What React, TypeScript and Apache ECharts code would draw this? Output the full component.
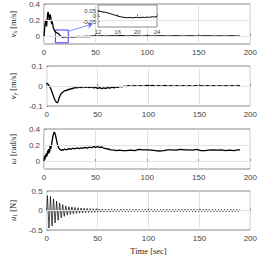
import React, { useEffect, useRef } from "react";
import * as echarts from "echarts";

const X_TICKS = [0, 50, 100, 150, 200];

const VX: number[][] = [
  [0, 0], [0.5, 0.08], [1, 0.15], [1.5, 0.2], [2, 0.17], [2.5, 0.12], [3, 0.2], [3.5, 0.28],
  [4, 0.3], [4.5, 0.26], [5, 0.2], [5.5, 0.24], [6, 0.27], [6.5, 0.24], [7, 0.18], [7.5, 0.15],
  [8, 0.18], [8.5, 0.14], [9, 0.1], [9.5, 0.09], [10, 0.07], [11, 0.05], [12, 0.045], [13, 0.035],
  [14, 0.03], [15, 0.015], [16, 0], [17, -0.008], [18, -0.015], [19, -0.013], [20, -0.012],
  [22, -0.01], [24, -0.005], [26, -0.012], [28, -0.008], [30, -0.01], [33, -0.006], [36, -0.009],
  [40, -0.004], [44, -0.006], [48, 0], [52, -0.003], [56, 0.002], [60, -0.002], [65, 0.002],
  [70, 0], [75, 0.003], [80, -0.002], [85, 0.001], [90, 0.002], [95, -0.001], [100, 0.001],
  [105, -0.002], [110, 0.002], [115, 0], [120, -0.002], [125, 0.002], [130, 0], [135, -0.002],
  [140, 0.002], [145, 0], [150, -0.001], [155, 0.002], [160, 0], [165, -0.002], [170, 0.001],
  [175, -0.001], [180, 0.002], [185, 0], [190, -0.001],
];

const VX_ZOOM: number[][] = [
  [12, 0.045], [12.5, 0.042], [13, 0.036], [13.5, 0.034], [14, 0.028], [14.5, 0.022], [15, 0.014],
  [15.5, 0.006], [16, 0], [16.5, -0.006], [17, -0.01], [17.5, -0.014], [18, -0.016], [18.5, -0.013],
  [19, -0.017], [19.5, -0.014], [20, -0.012], [20.5, -0.016], [21, -0.011], [21.5, -0.014],
  [22, -0.01], [22.5, -0.012], [23, -0.007], [23.5, -0.009], [24, -0.005],
];

const VY: number[][] = [
  [0, 0.016], [0.5, 0.01], [1, 0.013], [1.5, 0.006], [2, 0.008], [2.5, 0.001], [3, -0.003],
  [3.5, -0.008], [4, -0.014], [4.5, -0.02], [5, -0.028], [5.5, -0.034], [6, -0.042], [6.5, -0.048],
  [7, -0.056], [7.5, -0.062], [8, -0.068], [8.5, -0.073], [9, -0.077], [9.5, -0.081], [10, -0.083],
  [10.5, -0.084], [11, -0.08], [11.5, -0.072], [12, -0.064], [12.5, -0.056], [13, -0.05],
  [13.5, -0.043], [14, -0.04], [15, -0.034], [16, -0.03], [17, -0.027], [18, -0.022], [19, -0.024],
  [20, -0.018], [21, -0.021], [22, -0.015], [23, -0.018], [24, -0.012], [25, -0.015], [26, -0.009],
  [27, -0.012], [28, -0.007], [30, -0.01], [32, -0.005], [34, -0.008], [36, -0.003], [38, -0.007],
  [40, -0.004], [42, -0.008], [44, -0.005], [46, -0.01], [48, -0.007], [50, -0.012], [52, -0.008],
  [54, -0.013], [56, -0.009], [58, -0.012], [60, -0.008], [62, -0.011], [64, -0.006], [66, -0.009],
  [68, -0.004], [70, -0.007], [72, -0.002], [74, -0.005], [76, 0], [78, -0.003], [80, 0.002],
  [83, -0.002], [86, 0.002], [89, -0.002], [92, 0.002], [95, -0.002], [98, 0.003], [101, -0.001],
  [104, 0.003], [107, -0.002], [110, 0.002], [113, -0.002], [116, 0.003], [119, -0.002],
  [122, 0.002], [125, -0.002], [128, 0.002], [131, -0.002], [134, 0.002], [137, -0.002],
  [140, 0.002], [143, -0.002], [146, 0.002], [149, -0.002], [152, 0.002], [155, -0.002],
  [158, 0.002], [161, -0.002], [164, 0.002], [167, -0.002], [170, 0.002], [173, -0.002],
  [176, 0.002], [179, -0.002], [182, 0.002], [185, -0.002], [188, 0.002], [190, 0],
];

const OMEGA: number[][] = [
  [0, 0], [0.5, 0.06], [1, 0.02], [1.5, 0.08], [2, 0.05], [2.5, 0.1], [3, 0.06], [3.5, 0.13],
  [4, 0.09], [4.5, 0.15], [5, 0.1], [5.5, 0.12], [6, 0.2], [6.5, 0.15], [7, 0.18], [7.5, 0.22],
  [8, 0.26], [8.5, 0.3], [9, 0.33], [9.5, 0.35], [10, 0.36], [10.5, 0.35], [11, 0.33], [11.5, 0.3],
  [12, 0.27], [12.5, 0.24], [13, 0.21], [13.5, 0.19], [14, 0.17], [15, 0.15], [16, 0.14],
  [17, 0.13], [18, 0.145], [19, 0.135], [20, 0.15], [22, 0.14], [24, 0.155], [26, 0.145],
  [28, 0.16], [30, 0.15], [32, 0.165], [34, 0.155], [36, 0.165], [38, 0.16], [40, 0.17],
  [42, 0.16], [44, 0.175], [46, 0.165], [48, 0.18], [50, 0.17], [52, 0.18], [54, 0.17],
  [56, 0.175], [58, 0.16], [60, 0.155], [62, 0.15], [65, 0.14], [68, 0.135], [70, 0.13],
  [73, 0.135], [76, 0.13], [80, 0.13], [84, 0.135], [88, 0.13], [92, 0.145], [96, 0.14],
  [100, 0.14], [104, 0.135], [108, 0.13], [112, 0.125], [116, 0.13], [120, 0.14], [124, 0.14],
  [128, 0.135], [132, 0.145], [136, 0.14], [140, 0.14], [144, 0.135], [148, 0.145], [152, 0.13],
  [156, 0.13], [160, 0.135], [164, 0.14], [168, 0.135], [172, 0.14], [176, 0.13], [180, 0.135],
  [184, 0.13], [188, 0.14], [190, 0.14],
];

// u1: successive extrema of the oscillation, one every half period
const U1_START = 0.75;
const U1_HALF_PERIOD = 1.5;
const U1_EXTREMA = [
  0.38, -0.45, 0.36, -0.4, 0.3, -0.32, 0.24, -0.25, 0.19, -0.19,
  0.15, -0.15, 0.12, -0.12, 0.1, -0.1, 0.09, -0.085, 0.08, -0.075,
  0.07, -0.065, 0.065, -0.06, 0.06, -0.055, 0.055, -0.05, 0.05, -0.05,
  0.045, -0.045, 0.045, -0.04, 0.04, -0.04, 0.04, -0.035, 0.035, -0.035,
  0.035, -0.035, 0.035, -0.03, 0.035, -0.03, 0.03, -0.03, 0.035, -0.03,
  0.03, -0.03, 0.03, -0.035, 0.03, -0.03, 0.03, -0.03, 0.035, -0.03,
  0.03, -0.03, 0.03, -0.03, 0.03, -0.035, 0.03, -0.03, 0.03, -0.03,
  0.035, -0.03, 0.03, -0.03, 0.03, -0.03, 0.03, -0.03, 0.035, -0.03,
  0.03, -0.03, 0.03, -0.035, 0.03, -0.03, 0.03, -0.03, 0.03, -0.03,
  0.035, -0.03, 0.03, -0.03, 0.03, -0.03, 0.03, -0.035, 0.03, -0.03,
  0.03, -0.03, 0.03, -0.03, 0.035, -0.03, 0.03, -0.03, 0.03, -0.03,
  0.03, -0.03, 0.035, -0.03, 0.03, -0.03, 0.03, -0.03, 0.03, -0.03,
  0.03, -0.035, 0.03, -0.03, 0.03, -0.03, 0.03,
];

const INSET_BOX = [[11, -0.085], [23.5, 0.075]];
const INSET_ARROW = [[24, 0.06], [47, 0.15]];
const INSET_Y_LABELS = [-0.05, 0, 0.05];

const PANELS = [
  { top: 4, min: -0.1, max: 0.4, ticks: [0, 0.2, 0.4], name: "{i|v}{s|x} [m/s]" },
  { top: 66, min: -0.1, max: 0.1, ticks: [-0.1, 0, 0.1], name: "{i|v}{s|y} [m/s]" },
  { top: 129, min: -0.1, max: 0.4, ticks: [0, 0.2, 0.4], name: "{i|ω} [rad/s]" },
  { top: 191, min: -0.5, max: 0.5, ticks: [-0.5, 0, 0.5], name: "{i|u}{r|1} [N]" },
];

const SANS = "'Liberation Sans', Arial, sans-serif";
const SERIF = "'Liberation Serif', 'DejaVu Serif', serif";
const AXIS_COLOR = "#8a8a8a";
const GRID_COLOR = "#e3e3e3";
const LABEL_COLOR = "#444";

export default function App() {
  const ref = useRef<HTMLDivElement>(null);
  useEffect(() => {
    const chart = echarts.init(ref.current!, null, { renderer: "svg" });
    const u1 = [[0, 0], ...U1_EXTREMA.map((v, i) => [U1_START + U1_HALF_PERIOD * i, v])];
    const seriesData = [VX, VY, OMEGA, u1];

    const grids: any[] = PANELS.map((p) => ({
      left: 28, right: 8, top: p.top, height: 40,
      show: true, borderColor: AXIS_COLOR, borderWidth: 1, backgroundColor: "#fff",
    }));
    grids.push({
      left: 98, top: 5, width: 59, height: 22, z: 5,
      show: true, borderColor: AXIS_COLOR, borderWidth: 1, backgroundColor: "#fff",
    });

    const xAxes: any[] = PANELS.map((_, i) => ({
      type: "value", gridIndex: i, min: 0, max: 200, interval: 50,
      axisLine: { show: false },
      axisTick: { show: true, inside: true, length: 2, lineStyle: { color: AXIS_COLOR } },
      axisLabel: { fontSize: 8, fontFamily: SANS, color: LABEL_COLOR, margin: 4, customValues: X_TICKS },
      splitLine: { show: true, lineStyle: { color: GRID_COLOR, width: 1 } },
      ...(i === 3
        ? {
            name: "Time [sec]", nameLocation: "middle", nameGap: 16,
            nameTextStyle: { fontFamily: SERIF, fontSize: 8.5, color: "#222" },
          }
        : {}),
    }));
    xAxes.push({
      type: "value", gridIndex: 4, min: 12, max: 24, interval: 4, z: 5,
      axisLine: { show: false },
      axisTick: { show: true, inside: true, length: 2, lineStyle: { color: AXIS_COLOR } },
      axisLabel: { fontSize: 6, fontFamily: SANS, color: LABEL_COLOR, margin: 2 },
      splitLine: { show: false },
    });

    const rich = {
      i: { fontFamily: SERIF, fontStyle: "italic", fontSize: 8.5, color: "#222", lineHeight: 11 },
      s: { fontFamily: SERIF, fontStyle: "italic", fontSize: 5.5, color: "#222", verticalAlign: "bottom", lineHeight: 11 },
      r: { fontFamily: SERIF, fontSize: 5.5, color: "#222", verticalAlign: "bottom", lineHeight: 11 },
    };

    const yAxes: any[] = PANELS.map((p, i) => ({
      type: "value", gridIndex: i, min: p.min, max: p.max, interval: 0.1,
      axisLine: { show: false },
      axisTick: { show: true, inside: true, length: 2, lineStyle: { color: AXIS_COLOR }, customValues: p.ticks },
      axisLabel: { fontSize: 8, fontFamily: SANS, color: LABEL_COLOR, margin: 4, customValues: p.ticks },
      splitLine: { show: false },
      name: p.name, nameLocation: "middle", nameRotate: 90, nameGap: 26,
      nameTextStyle: { fontFamily: SERIF, fontSize: 8.5, color: "#222", rich },
    }));
    yAxes.push({
      type: "value", gridIndex: 4, min: -0.1, max: 0.1, interval: 0.05, z: 5,
      axisLine: { show: false },
      axisTick: { show: true, inside: true, length: 2, lineStyle: { color: AXIS_COLOR } },
      axisLabel: {
        fontSize: 6, fontFamily: SANS, color: LABEL_COLOR, margin: 2,
        showMinLabel: false, showMaxLabel: false,
        formatter: (v: number) => {
          const hit = INSET_Y_LABELS.find((t) => Math.abs(t - v) < 1e-6);
          return hit === undefined ? "" : String(hit);
        },
      },
      splitLine: { show: false },
    });

    const series: any[] = [];
    PANELS.forEach((p, i) => {
      series.push({
        type: "line", xAxisIndex: i, yAxisIndex: i, data: [], z: 1, silent: true,
        markLine: {
          silent: true, symbol: ["none", "none"], label: { show: false },
          lineStyle: { color: GRID_COLOR, type: "solid", width: 1 },
          data: p.ticks.filter((t) => t !== p.min && t !== p.max).map((t) => ({ yAxis: t })),
        },
      });
      series.push({
        type: "line", xAxisIndex: i, yAxisIndex: i, data: seriesData[i], z: 3,
        showSymbol: false, symbol: "none",
        lineStyle: { color: "#000", width: i === 3 ? 0.7 : 1.3 },
      });
    });
    series.push({
      type: "line", xAxisIndex: 0, yAxisIndex: 0, data: [], z: 4, silent: true,
      markArea: {
        silent: true,
        itemStyle: { color: "rgba(0,0,0,0)", borderColor: "#3d3dff", borderWidth: 1 },
        data: [[{ coord: INSET_BOX[0] }, { coord: INSET_BOX[1] }]],
      },
      markLine: {
        silent: true, symbol: ["none", "arrow"], symbolSize: 5, label: { show: false },
        lineStyle: { color: "#6f6fff", type: "solid", width: 0.8 },
        data: [[{ coord: INSET_ARROW[0] }, { coord: INSET_ARROW[1] }]],
      },
    });
    series.push({
      type: "line", xAxisIndex: 4, yAxisIndex: 4, data: VX_ZOOM, z: 6,
      showSymbol: false, symbol: "none",
      lineStyle: { color: "#000", width: 1 },
    });

    chart.setOption({
      animation: false,
      backgroundColor: "#fff",
      grid: grids,
      xAxis: xAxes,
      yAxis: yAxes,
      series,
    });
    return () => chart.dispose();
  }, []);
  return <div ref={ref} style={{ position: "absolute", left: 0, top: 0, width: 260, height: 256 }} />;
}
